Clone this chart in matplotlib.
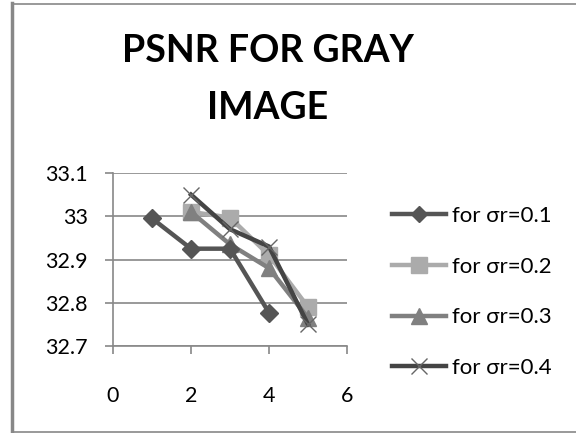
import matplotlib
matplotlib.use("Agg")
import matplotlib.pyplot as plt
from matplotlib.lines import Line2D

plt.rcParams['font.family'] = ['Lato', 'DejaVu Sans']

x1 = [1, 2, 3, 4]
y1 = [32.995, 32.925, 32.925, 32.777]
x2 = [2, 3, 4, 5]
y2 = [33.01, 32.997, 32.91, 32.79]
x3 = [2, 3, 4, 5]
y3 = [33.01, 32.935, 32.88, 32.765]
x4 = [2, 3, 4, 5]
y4 = [33.05, 32.97, 32.93, 32.75]
labels = ['for σr=0.1', 'for σr=0.2', 'for σr=0.3', 'for σr=0.4']
xticks = [0, 2, 4, 6]
yticks = [32.7, 32.8, 32.9, 33.0, 33.1]
yticklabels = ['32.7', '32.8', '32.9', '33', '33.1']

W, H = 576, 433
fig = plt.figure(figsize=(5.76, 4.33), dpi=100)
ax = fig.add_axes([113 / W, 1 - 346 / H, (347 - 113) / W, (346 - 173) / H])

lw = 3.2
ax.plot(x2, y2, color='#ababab', lw=lw, marker='s', ms=11, zorder=3)
ax.plot(x3, y3, color='#808080', lw=lw, marker='^', ms=12, zorder=4)
ax.plot(x1, y1, color='#555555', lw=lw, marker='D', ms=9, zorder=5)
ax.plot(x4, y4, color='#444444', lw=lw, marker='x', ms=11, mew=1, mec='#666666', zorder=6)

ax.set_xlim(0, 6)
ax.set_ylim(32.7, 33.1)
ax.set_xticks(xticks)
ax.set_yticks(yticks)
ax.set_yticklabels(yticklabels)
ax.grid(axis='y', color='#888888', lw=1.2)
ax.set_axisbelow(True)
for s in ['top', 'right']:
    ax.spines[s].set_visible(False)
for s in ['left', 'bottom']:
    ax.spines[s].set_color('#888888')
    ax.spines[s].set_linewidth(1.2)
ax.tick_params(axis='y', length=6, width=1.2, color='#888888', labelsize=15.5, pad=12)
ax.tick_params(axis='x', length=6, width=1.2, color='#888888', labelsize=15.5, pad=23)

fig.text(268 / W, 1 - 51 / H, 'PSNR FOR GRAY', ha='center', va='center',
         fontsize=27, fontweight='bold')
fig.text(268 / W, 1 - 108 / H, 'IMAGE', ha='center', va='center',
         fontsize=27, fontweight='bold')

handles = [
    Line2D([], [], color='#555555', lw=lw, marker='D', ms=8),
    Line2D([], [], color='#ababab', lw=lw, marker='s', ms=11),
    Line2D([], [], color='#808080', lw=lw, marker='^', ms=11),
    Line2D([], [], color='#444444', lw=lw, marker='x', ms=11, mew=1, mec='#666666'),
]
fig.legend(handles, labels, loc='upper left', bbox_to_anchor=(392 / W, 1 - 206 / H),
           frameon=False, fontsize=16, handlelength=2.45, handletextpad=0.25,
           labelspacing=1.38, borderaxespad=0, borderpad=0)

# outer frame
fig.add_artist(Line2D([11.5 / W, 11.5 / W], [0, 1 - 3 / H], color='#888888', lw=2.5,
                      transform=fig.transFigure))
fig.add_artist(Line2D([11.5 / W, 1], [1 - 3.5 / H, 1 - 3.5 / H], color='#888888', lw=1.2,
                      transform=fig.transFigure))
fig.add_artist(Line2D([11.5 / W, 1], [1 - 432 / H, 1 - 432 / H], color='#888888', lw=1.2,
                      transform=fig.transFigure))

fig.savefig('out.png', dpi=100)
